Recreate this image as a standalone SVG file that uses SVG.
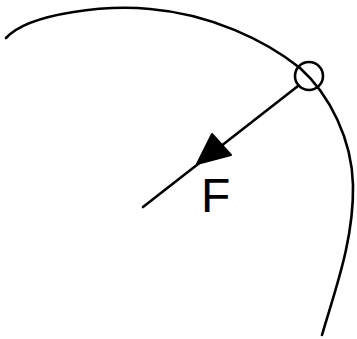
<svg xmlns="http://www.w3.org/2000/svg" width="357" height="339" viewBox="0 0 357 339">
<style>
.s{fill:none;stroke:#000;stroke-width:2.6;stroke-linecap:round;stroke-linejoin:round}
.t{font-family:"Liberation Sans",Arial,sans-serif;font-size:48px;fill:#000}
</style>
<rect width="357" height="339" fill="#fff"/>
<g id="orbit"><path class="s" d="M6,38 C30,12 110,5 150,9 C210,14 265,40 300,68 C330,95 352,140 353,185 C354,240 335,290 322,335"/></g>
<g id="particle"><circle class="s" cx="309" cy="76" r="14"/></g>
<g id="connectors">
<path class="s" d="M298,86 L143,207" stroke-width="3"/>
<polygon points="212,134 231,155 197,164" fill="#000" stroke="#000" stroke-width="2" stroke-linejoin="round"/>
</g>
<g id="label"><text class="t" x="201" y="212">F</text></g>
</svg>
